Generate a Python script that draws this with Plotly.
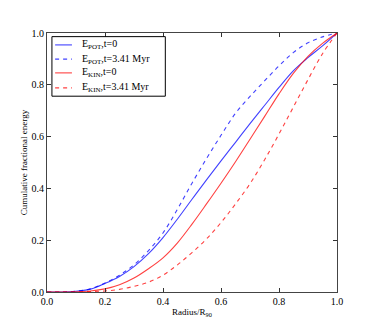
import plotly.graph_objects as go

# radius / R90 sample points
radius = [0.0, 0.05, 0.1, 0.15, 0.2, 0.25, 0.3, 0.35, 0.4, 0.45, 0.5,
          0.55, 0.6, 0.65, 0.7, 0.75, 0.8, 0.85, 0.9, 0.95, 1.0]

# cumulative fractional energy
epot_t0 = [0.0, 0.0, 0.003, 0.011, 0.033, 0.06, 0.098, 0.148, 0.21, 0.282, 0.358,
           0.433, 0.506, 0.578, 0.65, 0.72, 0.79, 0.855, 0.905, 0.95, 1.0]
epot_t341 = [0.0, 0.0, 0.003, 0.012, 0.035, 0.065, 0.105, 0.16, 0.228, 0.32, 0.42,
             0.515, 0.605, 0.69, 0.755, 0.815, 0.873, 0.925, 0.962, 0.985, 1.0]
ekin_t0 = [0.0, 0.0, 0.001, 0.004, 0.012, 0.028, 0.054, 0.09, 0.132, 0.19, 0.262,
           0.34, 0.42, 0.503, 0.59, 0.677, 0.765, 0.845, 0.91, 0.96, 1.0]
ekin_t341 = [0.0, 0.0, 0.0, 0.002, 0.004, 0.01, 0.022, 0.038, 0.065, 0.105, 0.152,
             0.205, 0.268, 0.34, 0.418, 0.51, 0.61, 0.715, 0.82, 0.92, 1.0]

labels = ['E<sub>POT</sub>,t=0', 'E<sub>POT</sub>,t=3.41 Myr',
          'E<sub>KIN</sub>,t=0', 'E<sub>KIN</sub>,t=3.41 Myr']

blue = 'rgba(0,0,255,0.75)'
red = 'rgba(255,0,0,0.75)'
serif = 'Liberation Serif'

fig = go.Figure()

series = [
    (labels[0], epot_t0, blue, 'solid'),
    (labels[1], epot_t341, blue, '4px,4px'),
    (labels[2], ekin_t0, red, 'solid'),
    (labels[3], ekin_t341, red, '4px,4px'),
]
for name, vals, col, dash in series:
    fig.add_trace(go.Scatter(
        x=radius, y=vals, name=name, mode='lines', showlegend=False,
        line=dict(color=col, width=1.1, dash=dash, shape='spline', smoothing=1.0)
    ))

# hand-drawn legend box (matplotlib style, compact rows)
fig.add_shape(type='rect', xref='paper', yref='paper',
              x0=0.017, x1=0.408, y0=0.756, y1=0.986,
              line=dict(color='black', width=1), fillcolor='white', layer='above')
row_y = [0.954, 0.899, 0.846, 0.788]
for (name, vals, col, dash), yy in zip(series, row_y):
    fig.add_shape(type='line', xref='paper', yref='paper',
                  x0=0.028, x1=0.086, y0=yy, y1=yy, layer='above',
                  line=dict(color=col, width=1.1, dash=dash))
    fig.add_annotation(xref='paper', yref='paper', x=0.115, y=yy,
                       xanchor='left', yanchor='middle', showarrow=False,
                       text=name, font=dict(family=serif, size=10, color='black'))

axis_style = dict(
    range=[0, 1], dtick=0.2, tickformat='.1f',
    ticks='inside', ticklen=4, tickcolor='#333',
    showline=True, linecolor='#444', linewidth=1, mirror='allticks',
    showgrid=False, zeroline=False,
    tickfont=dict(family=serif, size=10, color='black'),
)

fig.update_layout(
    width=366, height=319,
    margin=dict(l=39, r=37, t=25, b=33),
    plot_bgcolor='white', paper_bgcolor='white',
    xaxis=dict(axis_style, title=dict(text='Radius/R<sub>90</sub>', standoff=2,
                                      font=dict(family=serif, size=9, color='black'))),
    yaxis=dict(axis_style, title=dict(text='Cumulative fractional energy', standoff=2,
                                      font=dict(family=serif, size=9, color='black'))),
    showlegend=False,
)

fig.write_html("out.html")
